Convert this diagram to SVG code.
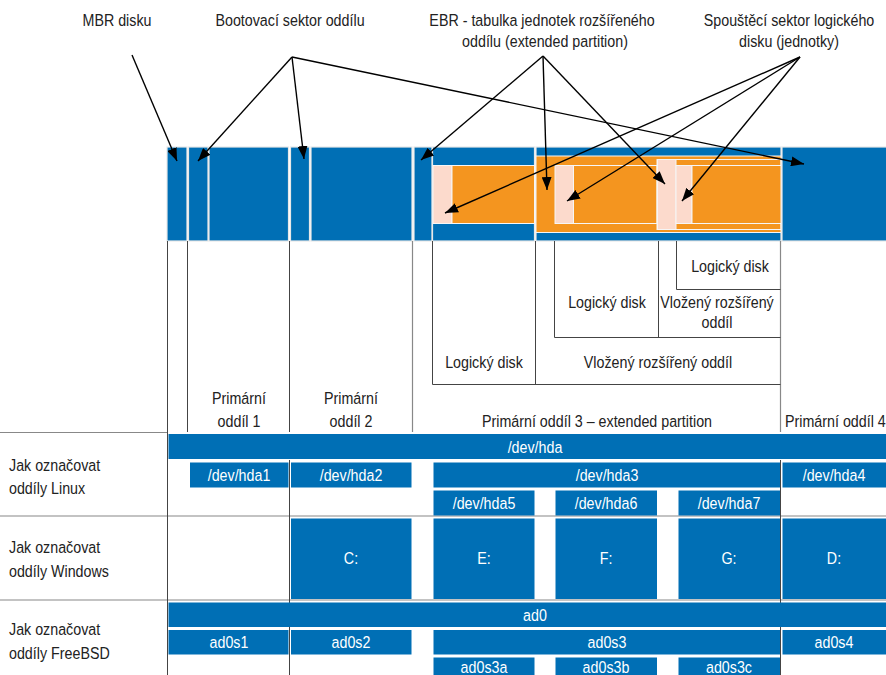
<svg xmlns="http://www.w3.org/2000/svg" width="886" height="675" viewBox="0 0 886 675">
<style>
text{font-family:"Liberation Sans",Arial,sans-serif;font-size:17px;fill:#222}
.w{fill:#fff;text-anchor:middle}
.c{text-anchor:middle}
.b{fill:#006fb5}
.bs{fill:#006fb5;stroke:#e8e8e8;stroke-width:1.2}
.o{fill:#f4951f;stroke:#f6f6f6;stroke-width:1}
.p{fill:#fcdacc;stroke:#f6f6f6;stroke-width:1}
.fr{fill:none;stroke:#f6f6f6;stroke-width:1}
.t{stroke:#444;stroke-width:1;fill:none}
.g{stroke:#888;stroke-width:1.2;fill:none}
.a{stroke:#000;stroke-width:1.4;fill:none;marker-end:url(#ah)}
</style>
<defs>
<marker id="ah" markerUnits="userSpaceOnUse" markerWidth="14" markerHeight="10" refX="13" refY="5" orient="auto">
<path d="M0,0 L13,5 L0,10 z" fill="#000"/>
</marker>
</defs>
<rect width="886" height="675" fill="#fff"/>

<g id="disk-bar">
<rect class="bs" x="167" y="147" width="20" height="94"/>
<rect class="bs" x="188.5" y="147" width="19.5" height="94"/>
<rect class="bs" x="209" y="147" width="79.5" height="94"/>
<rect class="bs" x="290.5" y="147" width="19" height="94"/>
<rect class="bs" x="311" y="147" width="101" height="94"/>
<rect class="bs" x="414" y="147" width="18" height="94"/>
<rect class="bs" x="432.5" y="147" width="102" height="94"/>
<rect class="p" x="433" y="165.5" width="19" height="58"/>
<rect class="o" x="452" y="165.5" width="82.5" height="58"/>
<rect class="bs" x="536" y="147" width="245" height="94"/>
<rect class="o" x="536" y="156" width="245" height="76.5"/>
<rect class="p" x="555" y="165.5" width="18.5" height="58"/>
<rect class="o" x="573.5" y="165.5" width="83.5" height="58"/>
<rect class="fr" x="657" y="159.5" width="124" height="70"/>
<rect class="p" x="657.5" y="159.5" width="18.5" height="70"/>
<rect class="p" x="676" y="165.5" width="16" height="58"/>
<rect class="o" x="692" y="165.5" width="89" height="58"/>
<rect class="bs" x="782" y="147" width="105" height="94"/>
</g>

<g id="tree-lines">
<path class="t" d="M167.5,241V432 M187.5,241V432 M289.5,241V432"/>
<path class="g" d="M412.5,241V432 M780.5,241V432"/>
<path class="t" d="M432.5,241V384.5H780.5 M535.5,241V384.5 M554.5,241V337.5H780.5 M658.5,241V337.5 M676.5,241V289.5H780.5"/>
</g>

<g id="tree-labels">
<text class="c" transform="translate(239 404) scale(0.84 1)">Primární</text>
<text class="c" transform="translate(239 427) scale(0.84 1)">oddíl 1</text>
<text class="c" transform="translate(351 404) scale(0.84 1)">Primární</text>
<text class="c" transform="translate(351 427) scale(0.84 1)">oddíl 2</text>
<text class="c" transform="translate(597 427) scale(0.84 1)">Primární oddíl 3 – extended partition</text>
<text transform="translate(785 427) scale(0.84 1)">Primární oddíl 4</text>
<text class="c" transform="translate(484 368) scale(0.84 1)">Logický disk</text>
<text class="c" transform="translate(658 368) scale(0.84 1)">Vložený rozšířený oddíl</text>
<text class="c" transform="translate(607 308) scale(0.84 1)">Logický disk</text>
<text class="c" transform="translate(717 308) scale(0.84 1)">Vložený rozšířený</text>
<text class="c" transform="translate(717 328) scale(0.84 1)">oddíl</text>
<text class="c" transform="translate(730 272) scale(0.84 1)">Logický disk</text>
</g>

<g id="top-labels">
<text class="c" transform="translate(117 26) scale(0.84 1)">MBR disku</text>
<text class="c" transform="translate(290 26) scale(0.84 1)">Bootovací sektor oddílu</text>
<text class="c" transform="translate(542 26) scale(0.84 1)">EBR - tabulka jednotek rozšířeného</text>
<text class="c" transform="translate(545 47) scale(0.84 1)">oddílu (extended partition)</text>
<text class="c" transform="translate(789 26) scale(0.84 1)">Spouštěcí sektor logického</text>
<text class="c" transform="translate(789 47) scale(0.84 1)">disku (jednotky)</text>
</g>

<g id="connectors">
<line class="a" x1="132" y1="55" x2="177" y2="161"/>
<line class="a" x1="292" y1="57" x2="198" y2="161"/>
<line class="a" x1="292" y1="57" x2="304" y2="159"/>
<line class="a" x1="292" y1="57" x2="804" y2="164"/>
<line class="a" x1="543" y1="56" x2="421" y2="160"/>
<line class="a" x1="543" y1="56" x2="547" y2="190"/>
<line class="a" x1="543" y1="56" x2="665" y2="184"/>
<line class="a" x1="800" y1="57" x2="445" y2="213"/>
<line class="a" x1="800" y1="57" x2="567" y2="201"/>
<line class="a" x1="800" y1="57" x2="682" y2="201"/>
</g>

<g id="table-lines">
<path class="g" d="M0,432.5H168 M0,516H886 M0,600H886"/>
<path class="t" d="M167.5,432V675 M289.5,460V675 M780.5,460V675"/>
</g>

<g id="row-labels">
<text transform="translate(9 471) scale(0.84 1)">Jak označovat</text>
<text transform="translate(9 494) scale(0.84 1)">oddíly Linux</text>
<text transform="translate(9 553) scale(0.84 1)">Jak označovat</text>
<text transform="translate(9 577) scale(0.84 1)">oddíly Windows</text>
<text transform="translate(9 635) scale(0.84 1)">Jak označovat</text>
<text transform="translate(9 659) scale(0.84 1)">oddíly FreeBSD</text>
</g>

<g id="linux">
<rect class="b" x="168.5" y="434" width="718" height="25"/>
<text class="w" transform="translate(535 453) scale(0.84 1)">/dev/hda</text>
<rect class="b" x="190" y="462.5" width="98.5" height="25"/>
<text class="w" transform="translate(239 481) scale(0.84 1)">/dev/hda1</text>
<rect class="b" x="291" y="462.5" width="120.5" height="25"/>
<text class="w" transform="translate(351 481) scale(0.84 1)">/dev/hda2</text>
<rect class="b" x="433.5" y="462.5" width="346.5" height="25"/>
<text class="w" transform="translate(607 481) scale(0.84 1)">/dev/hda3</text>
<rect class="b" x="782.5" y="462.5" width="104" height="25"/>
<text class="w" transform="translate(834 481) scale(0.84 1)">/dev/hda4</text>
<rect class="b" x="433.5" y="490.5" width="101" height="25"/>
<text class="w" transform="translate(484 509) scale(0.84 1)">/dev/hda5</text>
<rect class="b" x="555.5" y="490.5" width="101.5" height="25"/>
<text class="w" transform="translate(606 509) scale(0.84 1)">/dev/hda6</text>
<rect class="b" x="678.5" y="490.5" width="101.5" height="25"/>
<text class="w" transform="translate(729 509) scale(0.84 1)">/dev/hda7</text>
</g>

<g id="windows">
<rect class="b" x="291" y="518.5" width="120.5" height="80.5"/>
<text class="w" transform="translate(351 564) scale(0.84 1)">C:</text>
<rect class="b" x="433.5" y="518.5" width="101" height="80.5"/>
<text class="w" transform="translate(484 564) scale(0.84 1)">E:</text>
<rect class="b" x="555.5" y="518.5" width="101.5" height="80.5"/>
<text class="w" transform="translate(606 564) scale(0.84 1)">F:</text>
<rect class="b" x="678.5" y="518.5" width="101.5" height="80.5"/>
<text class="w" transform="translate(729 564) scale(0.84 1)">G:</text>
<rect class="b" x="782.5" y="518.5" width="104" height="80.5"/>
<text class="w" transform="translate(834 564) scale(0.84 1)">D:</text>
</g>

<g id="freebsd">
<rect class="b" x="168.5" y="602.5" width="718" height="24.5"/>
<text class="w" transform="translate(535 621) scale(0.84 1)">ad0</text>
<rect class="b" x="168.5" y="630" width="120" height="24.5"/>
<text class="w" transform="translate(229 648) scale(0.84 1)">ad0s1</text>
<rect class="b" x="291" y="630" width="120.5" height="24.5"/>
<text class="w" transform="translate(351 648) scale(0.84 1)">ad0s2</text>
<rect class="b" x="433.5" y="630" width="346.5" height="24.5"/>
<text class="w" transform="translate(607 648) scale(0.84 1)">ad0s3</text>
<rect class="b" x="782.5" y="630" width="104" height="24.5"/>
<text class="w" transform="translate(834 648) scale(0.84 1)">ad0s4</text>
<rect class="b" x="433.5" y="657.5" width="101" height="20"/>
<text class="w" transform="translate(484 673) scale(0.84 1)">ad0s3a</text>
<rect class="b" x="555.5" y="657.5" width="101.5" height="20"/>
<text class="w" transform="translate(606 673) scale(0.84 1)">ad0s3b</text>
<rect class="b" x="678.5" y="657.5" width="101.5" height="20"/>
<text class="w" transform="translate(729 673) scale(0.84 1)">ad0s3c</text>
</g>
</svg>
